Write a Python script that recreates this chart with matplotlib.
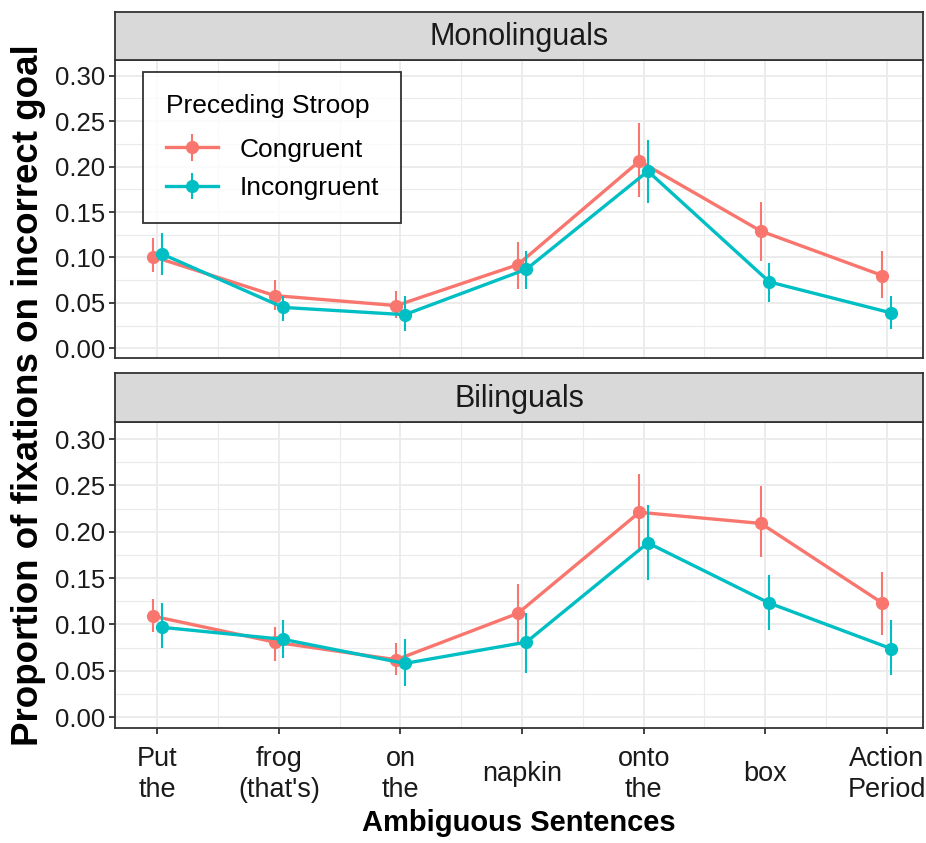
import numpy as np
import matplotlib.pyplot as plt
from matplotlib.ticker import MultipleLocator

# words of the ambiguous sentence (x categories)
words = ["Put\nthe", "frog\n(that's)", "on\nthe", "napkin", "onto\nthe", "box", "Action\nPeriod"]
groups = ["Monolinguals", "Bilinguals"]

# Monolinguals
mono_con = [0.101, 0.058, 0.047, 0.092, 0.206, 0.129, 0.080]
mono_con_lo = [0.084, 0.042, 0.033, 0.065, 0.167, 0.096, 0.055]
mono_con_hi = [0.121, 0.075, 0.063, 0.117, 0.248, 0.161, 0.107]
mono_inc = [0.104, 0.045, 0.037, 0.087, 0.195, 0.073, 0.039]
mono_inc_lo = [0.081, 0.030, 0.019, 0.065, 0.160, 0.051, 0.021]
mono_inc_hi = [0.127, 0.058, 0.058, 0.107, 0.229, 0.094, 0.058]

# Bilinguals
bi_con = [0.109, 0.081, 0.062, 0.112, 0.221, 0.209, 0.123]
bi_con_lo = [0.092, 0.061, 0.046, 0.080, 0.178, 0.173, 0.089]
bi_con_hi = [0.128, 0.097, 0.080, 0.144, 0.262, 0.249, 0.157]
bi_inc = [0.097, 0.084, 0.058, 0.081, 0.188, 0.123, 0.074]
bi_inc_lo = [0.075, 0.064, 0.034, 0.048, 0.148, 0.094, 0.046]
bi_inc_hi = [0.123, 0.105, 0.084, 0.112, 0.229, 0.153, 0.105]

red = "#F8766D"
teal = "#00BFC4"

plt.rcParams["font.family"] = ["Liberation Sans", "DejaVu Sans"]

fig = plt.figure(figsize=(9.26, 8.43), dpi=100)
ax_top = fig.add_axes([0.124, 0.575, 0.873, 0.354])
ax_bot = fig.add_axes([0.124, 0.136, 0.873, 0.363])
strips = [[0.124, 0.929, 0.873, 0.057], [0.124, 0.499, 0.873, 0.059]]

x = np.arange(1, 8)
dodge = 0.035
data = [
    (mono_con, mono_con_lo, mono_con_hi, mono_inc, mono_inc_lo, mono_inc_hi),
    (bi_con, bi_con_lo, bi_con_hi, bi_inc, bi_inc_lo, bi_inc_hi),
]

for ax, g, d, sp in zip([ax_top, ax_bot], groups, data, strips):
    c, clo, chi, i, ilo, ihi = [np.array(v) for v in d]
    ax.errorbar(x - dodge, c, yerr=[c - clo, chi - c], fmt="-o", color=red,
                lw=2.4, ms=8.5, elinewidth=1.5, capsize=0, label="Congruent", zorder=3)
    ax.errorbar(x + dodge, i, yerr=[i - ilo, ihi - i], fmt="-o", color=teal,
                lw=2.4, ms=8.5, elinewidth=1.5, capsize=0, label="Incongruent", zorder=4)
    ax.set_xlim(0.65, 7.3)
    ax.set_ylim(-0.012, 0.318)
    ax.yaxis.set_major_locator(MultipleLocator(0.05))
    ax.yaxis.set_minor_locator(MultipleLocator(0.025))
    ax.set_xticks(x)
    ax.set_xticks(np.arange(1.5, 7, 1), minor=True)
    ax.grid(which="major", color="#EBEBEB", lw=1.3, zorder=0)
    ax.grid(which="minor", color="#EBEBEB", lw=0.8, zorder=0)
    ax.set_axisbelow(True)
    ax.tick_params(which="minor", length=0)
    ax.tick_params(which="major", length=4, width=1.3, color="#333333",
                   labelsize=18.5, labelcolor="#1a1a1a", pad=3)
    ax.set_yticklabels(["%.2f" % v for v in ax.get_yticks()])
    for s in ax.spines.values():
        s.set_color("#333333")
        s.set_linewidth(1.3)
    sax = fig.add_axes(sp)
    sax.set_facecolor("#D9D9D9")
    sax.set_xticks([])
    sax.set_yticks([])
    for s in sax.spines.values():
        s.set_color("#333333")
        s.set_linewidth(1.3)
    sax.text(0.5, 0.47, g, ha="center", va="center", fontsize=22, color="#1a1a1a",
             transform=sax.transAxes)

ax_top.set_ylim(-0.011, 0.3175)
ax_top.tick_params(axis="x", labelbottom=False, length=0)
ax_bot.set_xticklabels(words, fontsize=19.5, linespacing=1.25, va="center")
ax_bot.tick_params(axis="x", pad=29)

leg = ax_top.legend(loc="upper left", bbox_to_anchor=(0.035, 0.96), borderaxespad=0,
                    title="Preceding Stroop", fontsize=19, title_fontsize=19,
                    frameon=True, fancybox=False, borderpad=0.85, handlelength=2.0,
                    labelspacing=0.55, handletextpad=0.8)
leg.get_frame().set_edgecolor("black")
leg.get_frame().set_linewidth(1.3)
leg._legend_box.align = "left"
leg._legend_box.sep = 14

fig.text(0.031, 0.531, "Proportion of fixations on incorrect goal", rotation=90,
         ha="center", va="center", fontsize=26.5, fontweight="bold")
fig.text(0.56, 0.024, "Ambiguous Sentences", ha="center", va="center",
         fontsize=21, fontweight="bold")

fig.savefig("out.png", dpi=100)
